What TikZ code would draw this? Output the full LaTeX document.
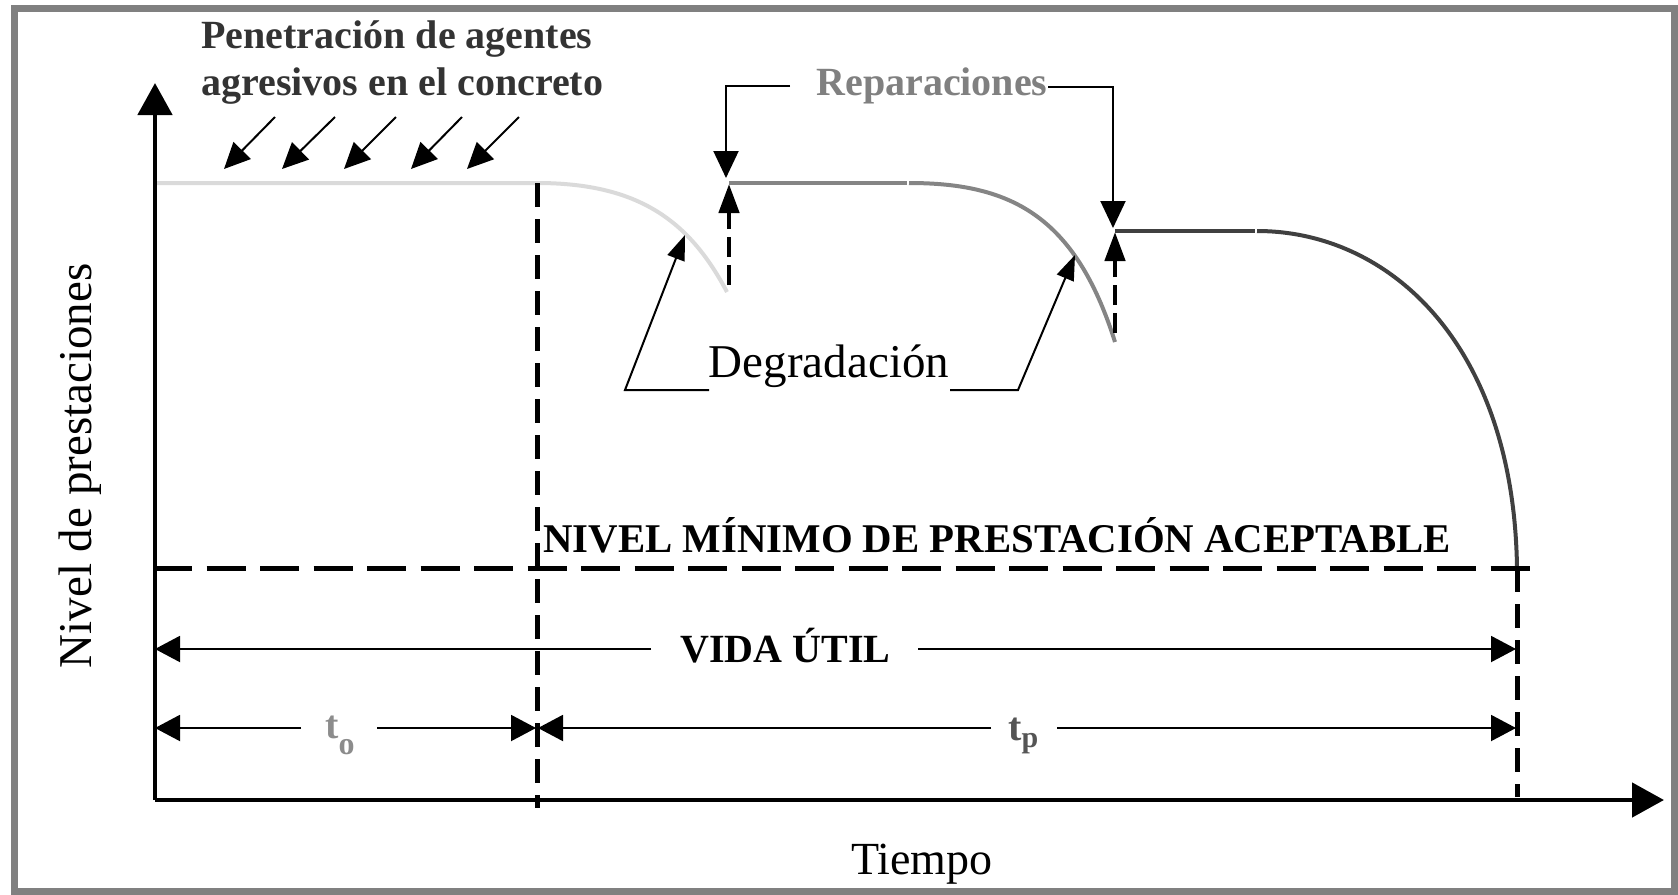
\documentclass[tikz,border=0pt]{standalone}
\usepackage{fontspec}
\setmainfont{Liberation Serif}
\usetikzlibrary{arrows.meta}
\definecolor{framegray}{HTML}{808080}
\definecolor{lightcurve}{HTML}{DADADA}
\definecolor{midcurve}{HTML}{858585}
\definecolor{darkcurve}{HTML}{404040}
\definecolor{pentext}{HTML}{333333}
\definecolor{reptext}{HTML}{808080}
\definecolor{totext}{HTML}{8C8C8C}
\definecolor{tptext}{HTML}{555555}
\begin{document}
\begin{tikzpicture}[x=0.5pt,y=-0.5pt,
  axisline/.style={line width=2.4pt,-{Triangle[length=16pt,width=17pt]}},
  dimarrow/.style={line width=1pt,-{Triangle[length=12.5pt,width=13pt]}},
  repdown/.style={line width=1pt,-{Triangle[length=13.5pt,width=12.5pt]}},
  repup/.style={line width=2.3pt,dash pattern=on 10pt off 4pt,-{Triangle[length=14.5pt,width=10pt]}},
  degarrow/.style={line width=1pt,-{Triangle[length=12.5pt,width=9pt]}},
  penarrow/.style={line width=1pt,-{Triangle[length=13pt,width=12pt]}},
  dashv/.style={line width=2.5pt,dash pattern=on 12pt off 6pt},
  dashh/.style={line width=2.5pt,dash pattern=on 19.5pt off 7.25pt},
  curveline/.style={line width=2pt},
  boldlabel/.style={inner sep=0pt,font=\bfseries\fontsize{20}{24}\selectfont},
  plainlabel/.style={inner sep=0pt,font=\fontsize{23.5}{28}\selectfont},
]
\useasboundingbox (0,0) rectangle (1678,895);
% frame
\draw[framegray,line width=3.5pt] (14.5,8.5) rectangle (1674,891.5);

% key coordinates
\coordinate (O) at (155,800);
\coordinate (Ytip) at (155,83);
\coordinate (Xtip) at (1664,800);
\coordinate (L0) at (155,183);
\coordinate (T0top) at (537,183);
\coordinate (T0bot) at (537,808);
\coordinate (D1end) at (727,292);
\coordinate (P2a) at (729,183);
\coordinate (P2b) at (907,183);
\coordinate (P2c) at (909,183);
\coordinate (D2end) at (1115,342);
\coordinate (P3a) at (1115,231);
\coordinate (P3b) at (1255,231);
\coordinate (P3c) at (1257,231);
\coordinate (Fail) at (1517,568);
\coordinate (Fbot) at (1517,797);
\coordinate (Mleft) at (153,568);
\coordinate (Mright) at (1533,568);

% performance curves
\draw[curveline,lightcurve] (L0) -- (T0top) .. controls (640,183) and (690,222) .. (D1end);
\draw[curveline,midcurve] (P2a) -- (P2b);
\draw[curveline,midcurve] (P2c) .. controls (1010,183) and (1075,215) .. (D2end);
\draw[curveline,darkcurve] (P3a) -- (P3b);
\draw[curveline,darkcurve] (P3c) .. controls (1390,231) and (1514,345) .. (Fail);

% dashed lines
\draw[dashv] (T0top) -- (T0bot);
\draw[dashv] (Fail) -- (Fbot);
\draw[dashh] (Mleft) -- (Mright);

% axes
\draw[axisline] (O) -- (Ytip);
\draw[axisline] (O) -- (Xtip);

% texts
\node[boldlabel,text=pentext,anchor=base west] (pen1) at (201,48) {Penetración de agentes};
\node[boldlabel,text=pentext,anchor=base west] (pen2) at (201,95) {agresivos en el concreto};
\node[boldlabel,text=reptext,anchor=base west] (rep) at (816,95) {Reparaciones};
\node[plainlabel,anchor=base] (deg) at (829,377) {Degradación};
\node[boldlabel,font=\bfseries\fontsize{20.4}{24}\selectfont,anchor=base west] (nivel) at (543,552) {NIVEL MÍNIMO DE PRESTACIÓN ACEPTABLE};
\node[boldlabel,anchor=base west] (vida) at (680,662) {VIDA ÚTIL};
\node[boldlabel,text=totext,anchor=base west] (tzero) at (325,738) {t\raisebox{-8pt}{\fontsize{16}{16}\selectfont o}};
\node[boldlabel,text=tptext,anchor=base west] (tp) at (1008,740) {t\raisebox{-3.5pt}{\fontsize{15}{15}\selectfont p}};
\node[plainlabel,rotate=90,anchor=base] (ylab) at (91,466) {Nivel de prestaciones};
\node[plainlabel,font=\fontsize{23}{28}\selectfont,anchor=base] (xlab) at (922,874) {Tiempo};

% penetration arrows
\foreach \i/\xa/\xb in {1/275/224,2/335/282,3/396/344,4/462/411,5/519/467}{
  \coordinate (pa\i) at (\xa,117);
  \coordinate (pb\i) at (\xb,169);
  \draw[penarrow] (pa\i) -- (pb\i);
}

% repair connectors
\coordinate (r1a) at (790,86);
\coordinate (r1b) at (726,86);
\coordinate (r1c) at (726,178);
\draw[repdown] (r1a) -- (r1b) -- (r1c);
\coordinate (r2a) at (1048,87);
\coordinate (r2b) at (1113,87);
\coordinate (r2c) at (1113,228);
\draw[repdown] (r2a) -- (r2b) -- (r2c);
\coordinate (u1a) at (729,285);
\coordinate (u1b) at (729,184);
\draw[repup] (u1a) -- (u1b);
\coordinate (u2a) at (1115,333);
\coordinate (u2b) at (1115,232);
\draw[repup] (u2a) -- (u2b);

% degradation connectors
\coordinate (g1a) at (709,390);
\coordinate (g1b) at (625,390);
\coordinate (g1c) at (685,235);
\draw[degarrow] (g1a) -- (g1b) -- (g1c);
\coordinate (g2a) at (950,390);
\coordinate (g2b) at (1018,390);
\coordinate (g2c) at (1075,255);
\draw[degarrow] (g2a) -- (g2b) -- (g2c);

% dimension arrows
\coordinate (v1) at (651,649);
\coordinate (v0) at (155,649);
\coordinate (v2) at (918,649);
\coordinate (v3) at (1516,649);
\draw[dimarrow] (v1) -- (v0);
\draw[dimarrow] (v2) -- (v3);
\coordinate (a1) at (301,728);
\coordinate (a0) at (155,728);
\coordinate (a2) at (377,728);
\coordinate (a3) at (536,728);
\coordinate (b1) at (991,728);
\coordinate (b0) at (538,728);
\coordinate (b2) at (1057,728);
\coordinate (b3) at (1516,728);
\draw[dimarrow] (a1) -- (a0);
\draw[dimarrow] (a2) -- (a3);
\draw[dimarrow] (b1) -- (b0);
\draw[dimarrow] (b2) -- (b3);
\end{tikzpicture}
\end{document}
